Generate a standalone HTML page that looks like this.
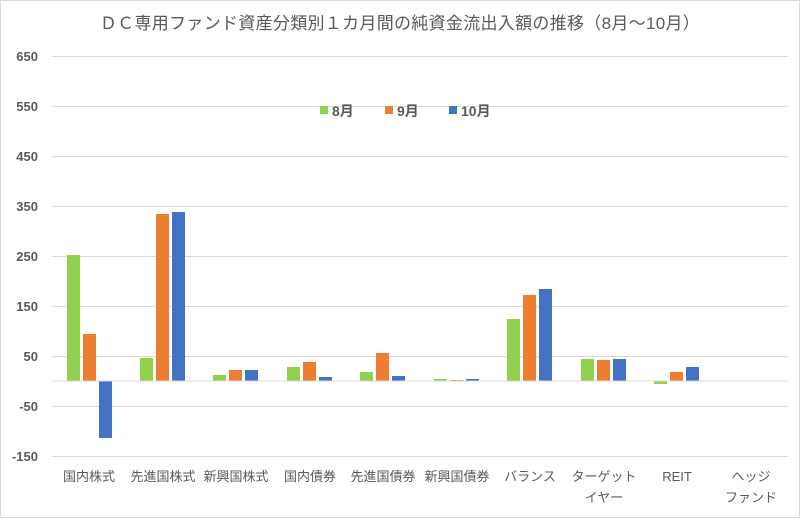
<!DOCTYPE html>
<html><head><meta charset="utf-8"><style>
body{margin:0;background:#fff}
svg text{font-family:"Liberation Sans","Noto Sans CJK JP",sans-serif;fill:#595959}
</style></head><body>
<svg width="800" height="518" xmlns="http://www.w3.org/2000/svg">
<rect x="0.5" y="0.5" width="799" height="517" fill="#fff" stroke="#d9d9d9"/>
<text x="400" y="29" font-size="17" text-anchor="middle" letter-spacing="0.3">ＤＣ専用ファンド資産分類別１カ月間の純資金流出入額の推移（8月～10月）</text>
<g stroke="#d9d9d9" stroke-width="1">
<line x1="52" x2="788" y1="56.5" y2="56.5"/><line x1="52" x2="788" y1="106.5" y2="106.5"/>
<line x1="52" x2="788" y1="156.5" y2="156.5"/><line x1="52" x2="788" y1="206.5" y2="206.5"/>
<line x1="52" x2="788" y1="256.5" y2="256.5"/><line x1="52" x2="788" y1="306.5" y2="306.5"/>
<line x1="52" x2="788" y1="356.5" y2="356.5"/><line x1="52" x2="788" y1="406.5" y2="406.5"/>
<line x1="52" x2="788" y1="456.5" y2="456.5"/>
</g>
<g font-size="13" font-weight="bold" text-anchor="end">
<text x="38" y="61">650</text><text x="38" y="111">550</text><text x="38" y="161">450</text>
<text x="38" y="211">350</text><text x="38" y="261">250</text><text x="38" y="311">150</text>
<text x="38" y="361">50</text><text x="38" y="411">-50</text><text x="38" y="461">-150</text>
</g>
<g>
<rect x="67" y="255" width="13" height="126" fill="#92d050"/>
<rect x="83" y="334" width="13" height="47" fill="#ed7d31"/>
<rect x="99" y="381" width="13" height="57" fill="#4472c4"/>
<rect x="140" y="358" width="13" height="23" fill="#92d050"/>
<rect x="156" y="214" width="13" height="167" fill="#ed7d31"/>
<rect x="172" y="212" width="13" height="169" fill="#4472c4"/>
<rect x="213" y="375" width="13" height="6" fill="#92d050"/>
<rect x="229" y="370" width="13" height="11" fill="#ed7d31"/>
<rect x="245" y="370" width="13" height="11" fill="#4472c4"/>
<rect x="287" y="367" width="13" height="14" fill="#92d050"/>
<rect x="303" y="362" width="13" height="19" fill="#ed7d31"/>
<rect x="319" y="377" width="13" height="4" fill="#4472c4"/>
<rect x="360" y="372" width="13" height="9" fill="#92d050"/>
<rect x="376" y="353" width="13" height="28" fill="#ed7d31"/>
<rect x="392" y="376" width="13" height="5" fill="#4472c4"/>
<rect x="434" y="379" width="13" height="2" fill="#92d050"/>
<rect x="450" y="380" width="13" height="1" fill="#ed7d31"/>
<rect x="466" y="379" width="13" height="2" fill="#4472c4"/>
<rect x="507" y="319" width="13" height="62" fill="#92d050"/>
<rect x="523" y="295" width="13" height="86" fill="#ed7d31"/>
<rect x="539" y="289" width="13" height="92" fill="#4472c4"/>
<rect x="581" y="359" width="13" height="22" fill="#92d050"/>
<rect x="597" y="360" width="13" height="21" fill="#ed7d31"/>
<rect x="613" y="359" width="13" height="22" fill="#4472c4"/>
<rect x="654" y="381" width="13" height="3" fill="#92d050"/>
<rect x="670" y="372" width="13" height="9" fill="#ed7d31"/>
<rect x="686" y="367" width="13" height="14" fill="#4472c4"/>
</g>
<line x1="52" x2="788" y1="381" y2="381" stroke="#d9d9d9"/>
<g font-size="13" text-anchor="middle" style="fill:#404040">
<text x="89" y="481">国内株式</text><text x="163" y="481">先進国株式</text>
<text x="236" y="481">新興国株式</text><text x="310" y="481">国内債券</text>
<text x="383" y="481">先進国債券</text><text x="457" y="481">新興国債券</text>
<text x="530" y="481">バランス</text><text x="604" y="481">ターゲット</text>
<text x="604" y="502">イヤー</text><text x="677" y="481">REIT</text>
<text x="751" y="481">ヘッジ</text><text x="751" y="502">ファンド</text>
</g>
<g font-size="14" font-weight="bold">
<rect x="320" y="106" width="8" height="8" fill="#92d050"/><text x="332" y="116">8月</text>
<rect x="385" y="106" width="8" height="8" fill="#ed7d31"/><text x="397" y="116">9月</text>
<rect x="449" y="106" width="8" height="8" fill="#4472c4"/><text x="461" y="116">10月</text>
</g>
</svg>
</body></html>
